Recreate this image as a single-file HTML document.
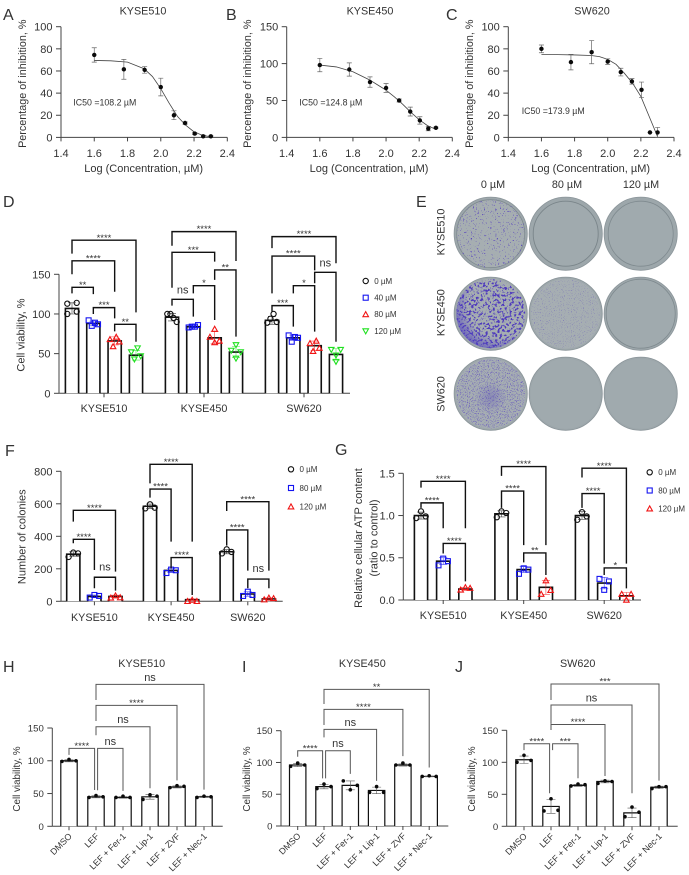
<!DOCTYPE html>
<html lang="en">
<head>
<meta charset="utf-8">
<title>Dose response and viability figure</title>
<style>
html,body{margin:0;padding:0;background:#fff;}
svg{display:block;font-family:"Liberation Sans",sans-serif;}
text{fill:#333;}
</style>
</head>
<body>
<svg id="figure" xmlns="http://www.w3.org/2000/svg" width="689" height="875" viewBox="0 0 689 875">
<defs>
<filter id="speckA" x="0" y="0" width="100%" height="100%" color-interpolation-filters="sRGB">
<feTurbulence type="fractalNoise" baseFrequency="0.62" numOctaves="3" seed="4"/>
<feColorMatrix type="matrix" values="0 0 0 0 .33  0 0 0 0 .25  0 0 0 0 .74  10 0 0 0 -6.6"/>
</filter>
<filter id="speckB" x="0" y="0" width="100%" height="100%" color-interpolation-filters="sRGB">
<feTurbulence type="fractalNoise" baseFrequency="0.42" numOctaves="3" seed="9"/>
<feColorMatrix type="matrix" values="0 0 0 0 .31  0 0 0 0 .23  0 0 0 0 .74  10 0 0 0 -5.3"/>
</filter>
<filter id="speckC" x="0" y="0" width="100%" height="100%" color-interpolation-filters="sRGB">
<feTurbulence type="fractalNoise" baseFrequency="0.9" numOctaves="2" seed="14"/>
<feColorMatrix type="matrix" values="0 0 0 0 .42  0 0 0 0 .38  0 0 0 0 .72  5 0 0 0 -3.1"/>
</filter>
<filter id="speckD" x="0" y="0" width="100%" height="100%" color-interpolation-filters="sRGB">
<feTurbulence type="fractalNoise" baseFrequency="0.9" numOctaves="2" seed="21"/>
<feColorMatrix type="matrix" values="0 0 0 0 .40  0 0 0 0 .34  0 0 0 0 .74  6 0 0 0 -3.3"/>
</filter>
<radialGradient id="crescent" cx="0.62" cy="0.38" r="0.72">
<stop offset="0.62" stop-color="#5040c0" stop-opacity="0"/>
<stop offset="1" stop-color="#4a3ac0" stop-opacity="0.85"/>
</radialGradient>
<radialGradient id="centerBlot" cx="0.5" cy="0.55" r="0.22">
<stop offset="0" stop-color="#5548b8" stop-opacity="0.35"/>
<stop offset="1" stop-color="#5548b8" stop-opacity="0"/>
</radialGradient>
<clipPath id="dishClip"><circle cx="0" cy="0" r="34.5"/></clipPath>
</defs>

<g style="font-size:16px">
<text x="3" y="20">A</text>
<text x="226" y="20">B</text>
<text x="446" y="20">C</text>
<text x="3" y="207">D</text>
<text x="416" y="207">E</text>
<text x="5" y="456">F</text>
<text x="335" y="455">G</text>
<text x="3" y="672">H</text>
<text x="242" y="672">I</text>
<text x="455" y="672">J</text>
</g>

<g>
<g style="font-size:10.8px" text-anchor="middle">
<text x="493" y="188">0 µM</text>
<text x="567" y="188">80 µM</text>
<text x="641" y="188">120 µM</text>
<text transform="translate(444.5,232) rotate(-90)">KYSE510</text>
<text transform="translate(444.5,312.7) rotate(-90)">KYSE450</text>
<text transform="translate(444.5,394) rotate(-90)">SW620</text>
</g>

<g transform="translate(490.7,233.7)">
<circle r="36.6" fill="#9da7ab" stroke="#8b959a" stroke-width=".8"/><circle r="34" fill="#a6aeb1" stroke="#7f8a90" stroke-width=".8"/>
<g clip-path="url(#dishClip)"><rect x="-36" y="-36" width="72" height="72" filter="url(#speckA)"/></g>
</g>
<g transform="translate(565.7,233.7)">
<circle r="36.6" fill="#9da7ab" stroke="#8b959a" stroke-width=".8"/><circle r="32.5" fill="#a0aaae" stroke="#7a858a" stroke-width=".9"/>
</g>
<g transform="translate(640.7,233.7)">
<circle r="36.6" fill="#9da7ab" stroke="#8b959a" stroke-width=".8"/><circle r="32.5" fill="#a0aaae" stroke="#7f8a8f" stroke-width=".8"/>
</g>

<g transform="translate(490.7,313.7)">
<circle r="36.6" fill="#9da7ab" stroke="#8b959a" stroke-width=".8"/><circle r="35" fill="#a6aeb1"/>
<g clip-path="url(#dishClip)"><rect x="-36" y="-36" width="72" height="72" filter="url(#speckB)"/><rect x="-36" y="-36" width="72" height="72" fill="url(#crescent)"/></g>
</g>
<g transform="translate(565.7,313.7)">
<circle r="36.6" fill="#9da7ab" stroke="#8b959a" stroke-width=".8"/><circle r="35" fill="#a6aeb2"/>
<g clip-path="url(#dishClip)"><rect x="-36" y="-36" width="72" height="72" filter="url(#speckC)" opacity=".85"/></g>
</g>
<g transform="translate(640.7,313.7)">
<circle r="36.6" fill="#9da7ab" stroke="#8b959a" stroke-width=".8"/><circle r="34.5" fill="#a0aaae" stroke="#7f8a8f" stroke-width=".8"/>
</g>

<g transform="translate(490.7,393.7)">
<circle r="36.6" fill="#9da7ab" stroke="#8b959a" stroke-width=".8"/><circle r="35" fill="#a6aeb2"/>
<g clip-path="url(#dishClip)"><rect x="-36" y="-36" width="72" height="72" filter="url(#speckD)"/><rect x="-36" y="-36" width="72" height="72" fill="url(#centerBlot)"/></g>
</g>
<g transform="translate(565.7,393.7)">
<circle r="36.6" fill="#9da7ab" stroke="#8b959a" stroke-width=".8"/><circle r="35" fill="#a0aaae"/>
</g>
<g transform="translate(640.7,393.7)">
<circle r="36.6" fill="#9da7ab" stroke="#8b959a" stroke-width=".8"/><circle r="35" fill="#a0aaae"/>
</g>
</g>

<script>
/* ---------- Panels A-C: dose response ---------- */
const doseLogs = [1.6, 1.778, 1.903, 2.0, 2.079, 2.146, 2.204, 2.255, 2.301];
const doseXTicks = [1.4, 1.6, 1.8, 2.0, 2.2, 2.4];
const aYTicks = [0, 20, 40, 60, 80, 100];
const bYTicks = [0, 50, 100, 150];
const cYTicks = [0, 20, 40, 60, 80, 100];
const aMeans = [74.5, 61.5, 61, 45.5, 20, 13, 3.5, 1, 1];
const aErrors = [6.5, 9, 3, 8, 4, 1, 1, 1, 0.5];
const bMeans = [98, 92, 75, 67, 50, 35, 23, 12, 13];
const bErrors = [9, 9, 7, 6, 2, 6, 5, 3, 1];
const cMeans = [80, 68, 77, 68.5, 59, 50.6, 43, 4.5, 4.5];
const cErrors = [3.5, 7, 10.5, 2.5, 3.5, 2.5, 7, 0, 4.5];
const curveLogs = [1.6, 1.7, 1.8, 1.9, 1.95, 2.0, 2.05, 2.1, 2.15, 2.2, 2.25, 2.3];
const aCurve = [69.5, 69.2, 68, 62, 55, 44, 31, 19, 11, 5, 2, 0.5];
const bCurve = [98, 95.5, 89, 78, 71, 64, 55, 45, 34, 24, 16, 11];
const cCurve = [75, 74.8, 74.5, 74, 73, 70.5, 66, 58, 49, 37, 19, 1];

/* ---------- Panel D ---------- */
const dGroups = ["KYSE510", "KYSE450", "SW620"];
const dDoses = ["0 µM", "40 µM", "80 µM", "120 µM"];
const dYTicks = [0, 50, 100, 150];
const dMeans = [[107, 88, 66, 48], [96, 84, 70, 52], [92, 70, 60, 49]];
const dPoints = [
  [[100, 103, 113, 114], [92, 85, 89, 87], [68, 59, 71, 65], [52, 43, 57, 47]],
  [[100, 100, 95, 90], [83, 84, 84, 86], [81, 71, 64, 66], [61, 54, 52, 44]],
  [[89, 94, 100, 90], [73, 65, 71, 70], [63, 53, 66, 57], [55, 55, 48, 40]]
];
const dBrackets = [
  [[0, 1, 133.6, 126, 125, "**"], [0, 2, 167, 150, 128, "****"], [0, 3, 193, 176, 102, "****"], [1, 2, 108, 100, 94.5, "***"], [2, 3, 87, 78, 65, "**"]],
  [[0, 1, 118.5, 110.5, 96.6, "ns"], [0, 2, 177.7, 133, 166, "***"], [0, 3, 203.8, 186, 166.8, "****"], [1, 2, 135.7, 126, 92.4, "*"], [2, 3, 155.5, 143, 71.4, "**"]],
  [[0, 1, 110.5, 103, 84, "***"], [0, 2, 173, 126, 155, "****"], [0, 3, 197.5, 183, 164, "****"], [1, 2, 135.7, 126, 77.7, "*"], [2, 3, 152.5, 138.7, 65, "ns"]]
];

/* ---------- Panel F ---------- */
const fGroups = ["KYSE510", "KYSE450", "SW620"];
const fDoses = ["0 µM", "80 µM", "120 µM"];
const fYTicks = [0, 200, 400, 600, 800];
const fMeans = [[290, 30, 30], [585, 190, 10], [305, 45, 15]];
const fPoints = [
  [[273, 300, 295], [23, 39, 33], [21, 35, 23]],
  [[572, 597, 576], [174, 195, 191], [0, 8, 0]],
  [[295, 320, 304], [33, 59, 39], [10, 21, 18]]
];
const fBrackets = [
  [[0, 1, 381.5, 357, 193, "****"], [0, 2, 560, 490, 183, "****"], [1, 2, 148, 80, 66, "ns"]],
  [[0, 1, 691, 638, 367, "****"], [0, 2, 843, 726, 367, "****"], [1, 2, 269, 203, 39, "****"]],
  [[0, 1, 439, 343, 189, "****"], [0, 2, 613, 556, 189, "****"], [1, 2, 137, 80, 80, "ns"]]
];

/* ---------- Panel G ---------- */
const gGroups = ["KYSE510", "KYSE450", "SW620"];
const gDoses = ["0 µM", "80 µM", "120 µM"];
const gYTicks = [0, 0.5, 1, 1.5];
const gYTickLabels = ["0.0", "0.5", "1.0", "1.5"];
const gMeans = [[1.0, 0.46, 0.13], [1.02, 0.36, 0.15], [1.0, 0.2, 0.05]];
const gPoints = [
  [[0.97, 1.05, 0.99], [0.41, 0.49, 0.46], [0.12, 0.15, 0.14]],
  [[0.98, 1.05, 1.03], [0.31, 0.375, 0.36], [0.07, 0.23, 0.115]],
  [[0.95, 1.04, 0.99], [0.25, 0.12, 0.22], [0.07, 0, 0.07]]
];
const gBrackets = [
  [[0, 1, 1.15, 1.09, 0.85, "****"], [0, 2, 1.405, 1.33, 0.85, "****"], [1, 2, 0.67, 0.55, 0.22, "****"]],
  [[0, 1, 1.29, 1.09, 0.65, "****"], [0, 2, 1.58, 1.47, 0.65, "****"], [1, 2, 0.557, 0.446, 0.296, "**"]],
  [[0, 1, 1.26, 1.09, 0.43, "****"], [0, 2, 1.56, 1.45, 0.43, "****"], [1, 2, 0.38, 0.296, 0.138, "*"]]
];

/* ---------- Panels H-J ---------- */
const treatments = ["DMSO", "LEF", "LEF + Fer-1", "LEF + Lip-1", "LEF + ZVF", "LEF + Nec-1"];
const viabilityTicks = [0, 50, 100, 150];
const hMeans = [100, 45, 44, 45, 60, 45];
const hPoints = [[99, 102, 100], [44, 47, 45], [44, 46, 44], [41, 48, 46], [59, 62, 61], [44, 46, 45]];
const hBrackets = [[0, 1, 119, 109, 55.4, "****"], [1, 2, 119, 55, 54, "ns"], [1, 3, 152, 139, 58, "ns"], [1, 4, 184.5, 160.6, 70, "****"], [1, 5, 216.6, 192.7, 56, "ns"]];
const iMeans = [96, 62, 64, 56, 96, 78];
const iPoints = [[94, 99, 96], [59, 66, 62], [71, 57, 64], [53, 62, 53], [96, 99, 96], [78, 79, 78]];
const iBrackets = [[0, 1, 118.5, 109, 75, "****"], [1, 2, 118.5, 75, 82, "ns"], [1, 3, 152, 139.5, 71, "ns"], [1, 4, 183.5, 159, 110, "****"], [1, 5, 215, 192, 92, "**"]];
const jMeans = [104, 31, 64, 70, 21, 61];
const jPoints = [[100, 111, 103], [24, 43, 25], [63, 66, 65], [67, 71, 70], [15, 30, 22], [59, 62, 62]];
const jBrackets = [[0, 1, 129, 119, 51.6, "****"], [1, 2, 129, 119, 75, "***"], [1, 3, 159, 150.5, 78.6, "****"], [1, 4, 189.6, 160, 51.6, "ns"], [1, 5, 222.4, 197.4, 71.4, "***"]];

/* ---------- helpers ---------- */
const SVGNS = "http://www.w3.org/2000/svg";
const root = document.getElementById("figure");
const AXIS = "#444";
const BLACK = "#111";

function make(tag, parent, attrs) {
  const node = document.createElementNS(SVGNS, tag);
  for (const k in attrs) node.setAttribute(k, attrs[k]);
  parent.appendChild(node);
  return node;
}
function scale(d0, d1, r0, r1) {
  return v => r0 + (v - d0) * (r1 - r0) / (d1 - d0);
}
function sd(values) {
  const m = values.reduce((a, b) => a + b, 0) / values.length;
  return Math.sqrt(values.reduce((a, b) => a + (b - m) * (b - m), 0) / (values.length - 1));
}
function makeLine(parent, x1, y1, x2, y2, color, width) {
  return make("line", parent, {x1: x1, y1: y1, x2: x2, y2: y2, stroke: color, "stroke-width": width});
}
function makeText(parent, x, y, content, size, anchor) {
  const t = make("text", parent, {x: x, y: y, "font-size": size, "text-anchor": anchor});
  t.textContent = content;
  return t;
}

/* y axis */
function drawYAxis(parent, x, y, ticks, labels, fontSize, topValue, bottomValue) {
  const ax = makeLine(parent, x, y(bottomValue), x, y(topValue), AXIS, 1);
  
  
  ticks.forEach((tick, i) => {
    const tl = makeLine(parent, x - 5, y(tick), x, y(tick), AXIS, 1);
    
    
    const lb = makeText(parent, x - 8.5, y(tick) + fontSize * 0.36, labels[i], fontSize, "end");
    
    
  });
}
function drawYTitle(parent, x, cy, content, size) {
  const t = make("text", parent, {"font-size": size, "text-anchor": "middle", transform: "translate(" + x + "," + cy + ") rotate(-90)"});
  t.textContent = content;
  
  
}

/* markers: 0 circle, 1 square, 2 triangle up, 3 triangle down */
function drawMarker(parent, kind, x, y, color, s, width) {
  let m;
  if (kind === 0) {
    m = make("circle", parent, {cx: x, cy: y, r: s * 0.95, fill: "none", stroke: color, "stroke-width": width});
  } else if (kind === 1) {
    m = make("rect", parent, {x: x - s * 0.9, y: y - s * 0.9, width: s * 1.8, height: s * 1.8, fill: "none", stroke: color, "stroke-width": width});
  } else if (kind === 2) {
    m = make("path", parent, {d: "M" + x + " " + (y - s) + "L" + (x + s) + " " + (y + s * 0.8) + "L" + (x - s) + " " + (y + s * 0.8) + "Z", fill: "none", stroke: color, "stroke-width": width});
  } else {
    m = make("path", parent, {d: "M" + x + " " + (y + s) + "L" + (x + s) + " " + (y - s * 0.8) + "L" + (x - s) + " " + (y - s * 0.8) + "Z", fill: "none", stroke: color, "stroke-width": width});
  }
  return m;
}

/* Swarm: points close in y share a row, kept in listed order */
function swarmOffsets(values, y, spacing, gap) {
  const order = values.map((v, i) => i).sort((a, b) => values[a] - values[b]);
  const rows = [];
  order.forEach(i => {
    const row = rows[rows.length - 1];
    if (row && Math.abs(y(values[row[row.length - 1]]) - y(values[i])) < gap) row.push(i);
    else rows.push([i]);
  });
  const out = values.map(() => 0);
  rows.forEach(row => {
    row.sort((a, b) => a - b);
    const n = row.length;
    row.forEach((idx, k) => {
      out[idx] = n === 1 ? 0 : (k - (n - 1) / 2) * (2 * spacing / (n - 1));
    });
  });
  return out;
}

function drawBracket(parent, x1, x2, yTop, yL, yR, label, color, width, lift) {
  const p = make("path", parent, {d: "M" + x1 + " " + yL + "V" + yTop + "H" + x2 + "V" + yR, fill: "none", stroke: color, "stroke-width": width});
  
  
  const isNs = label === "ns";
  const t = makeText(parent, (x1 + x2) / 2, isNs ? yTop - lift : yTop + 0.6, label, isNs ? 11 : 9.5, "middle");
  
  
}

/* ---------- dose response chart ---------- */
function drawDose(cfg) {
  const g = make("g", root, {});
  
  
  const x = scale(1.4, 2.4, cfg.x0, cfg.x1);
  const y = scale(0, cfg.ticks[cfg.ticks.length - 1], 137.4, 26.7);

  const title = makeText(g, cfg.titleX, 14.5, cfg.title, 10.8, "middle");
  
  

  drawYAxis(g, cfg.x0, y, cfg.ticks, cfg.ticks.map(String), 11, cfg.ticks[cfg.ticks.length - 1], 0);
  drawYTitle(g, cfg.yTitleX, 83.7, "Percentage of inhibition, %", 10.8);

  const xa = makeLine(g, cfg.x0, y(0), cfg.x1, y(0), AXIS, 1);
  
  
  doseXTicks.forEach(v => {
    const tk = makeLine(g, x(v), y(0), x(v), y(0) + 4, AXIS, 1);
    
    
    const lb = makeText(g, x(v), 157, v.toFixed(1), 11, "middle");
    
    
  });
  const xt = makeText(g, (cfg.x0 + cfg.x1) / 2 - 0.5, 172, "Log (Concentration, µM)", 11, "middle");
  
  

  const ic = makeText(g, cfg.icX, cfg.icY, cfg.ic, 8.8, "start");
  
  

  const curvePts = curveLogs.map((v, i) => x(v).toFixed(2) + "," + y(cfg.curve[i]).toFixed(2)).join(" ");
  const fit = make("polyline", g, {points: curvePts, fill: "none", stroke: "#444", "stroke-width": 0.8});
  
  

  doseLogs.forEach((v, i) => {
    const px = x(v), top = y(cfg.means[i] + cfg.errors[i]), bot = y(Math.max(0, cfg.means[i] - cfg.errors[i]));
    const eb = make("path", g, {d: "M" + (px - 2.5) + " " + top + "H" + (px + 2.5) + "M" + px + " " + top + "V" + bot + "M" + (px - 2.5) + " " + bot + "H" + (px + 2.5), fill: "none", stroke: "#666", "stroke-width": 0.7});
    
    
    const dot = make("circle", g, {cx: px, cy: y(cfg.means[i]), r: 2.2, fill: "#0a0a0a"});
    
    
  });
}

/* ---------- grouped bar chart ---------- */
function drawGrouped(cfg) {
  const g = make("g", root, {});
  
  
  const top = cfg.yTicks[cfg.yTicks.length - 1];
  const y = scale(0, top, cfg.y0, cfg.y1);
  const barX = (group, bar) => cfg.firstBar + group * cfg.groupStep + bar * cfg.barStep;

  drawYAxis(g, cfg.axisX, y, cfg.yTicks, cfg.yLabels, 11, top, 0);
  cfg.yTitles.forEach(t => drawYTitle(g, t[0], t[1], t[2], 11));

  const xa = makeLine(g, cfg.axisX, y(0), cfg.axisEnd, y(0), AXIS, 1);
  
  

  cfg.groups.forEach((group, gi) => {
    const barCount = cfg.doses.length;
    const cx = (barX(gi, 0) + barX(gi, barCount - 1)) / 2;
    const tk = makeLine(g, cx, y(0), cx, y(0) + 4, AXIS, 1);
    
    
    const lb = makeText(g, cx, cfg.labelY, group, 10.8, "middle");
    
    

    cfg.doses.forEach((dose, bi) => {
      const bx = barX(gi, bi);
      const bar = make("path", g, {d: "M" + (bx - 6.6) + " " + y(0) + "V" + y(cfg.means[gi][bi]) + "H" + (bx + 6.6) + "V" + y(0), fill: "#fff", stroke: BLACK, "stroke-width": 1.6});
      
      
    });
    cfg.doses.forEach((dose, bi) => {
      const bx = barX(gi, bi);
      const vals = cfg.points[gi][bi];
      const mean = cfg.means[gi][bi];
      const s = sd(vals);
      const color = cfg.colors[bi];
      const et = y(mean + s), eb = y(Math.max(mean - s, 0));
      const err = make("path", g, {d: "M" + (bx - 4) + " " + et + "H" + (bx + 4) + "M" + bx + " " + et + "V" + eb + "M" + (bx - 4) + " " + eb + "H" + (bx + 4), fill: "none", stroke: color, "stroke-width": 0.6, opacity: 0.8});
      
      
      const offs = swarmOffsets(vals, y, 4.7, 5);
      vals.forEach((v, pi) => {
        const mk = drawMarker(g, bi === 0 ? 0 : cfg.kinds[bi], bx + offs[pi], y(v), color, 2.75, 1.1);
        
        
      });
    });
    cfg.brackets[gi].forEach(b => {
      drawBracket(g, barX(gi, b[0]), barX(gi, b[1]), y(b[2]), y(b[3]), y(b[4]), b[5], BLACK, 1.4, cfg.nsLift);
    });
  });

  cfg.doses.forEach((dose, i) => {
    const ly = cfg.legendY + i * cfg.legendStep;
    const lm = drawMarker(g, i === 0 ? 0 : cfg.kinds[i], cfg.legendX, ly, cfg.colors[i], 2.8, 1.1);
    
    
    const lt = makeText(g, cfg.legendX + 8.5, ly + 2.8, dose, 8, "start");
    
    
  });
}

/* ---------- treatment bar chart ---------- */
function drawTreatment(cfg) {
  const g = make("g", root, {});
  
  
  const y = scale(0, 150, cfg.y0, cfg.y1);
  const bx = i => cfg.firstBar + i * cfg.barStep;

  const title = makeText(g, cfg.titleX, 667, cfg.title, 10.8, "middle");
  
  

  drawYAxis(g, cfg.axisX, y, viabilityTicks, viabilityTicks.map(String), 9.6, 150, 0);
  drawYTitle(g, cfg.yTitleX, 779, "Cell viability, %", 9.8);

  const xa = makeLine(g, cfg.axisX, y(0), cfg.axisEnd, y(0), AXIS, 1);
  
  

  treatments.forEach((name, i) => {
    const px = bx(i);
    const tk = makeLine(g, px, y(0), px, y(0) + 4, AXIS, 1);
    
    
    const lb = make("text", g, {"font-size": 8.8, "text-anchor": "end", transform: "translate(" + (px + 3.5) + "," + (y(0) + 10.5) + ") rotate(-45)"});
    lb.textContent = name;
    
    

    const bar = make("path", g, {d: "M" + (px - 8.2) + " " + y(0) + "V" + y(cfg.means[i]) + "H" + (px + 8.2) + "V" + y(0), fill: "#fff", stroke: BLACK, "stroke-width": 1.2});
    
    

    const vals = cfg.points[i];
    const mean = cfg.means[i];
    const s = sd(vals);
    const et = y(mean + s), eb = y(mean - s);
    const err = make("path", g, {d: "M" + (px - 4.5) + " " + et + "H" + (px + 4.5) + "M" + px + " " + et + "V" + eb + "M" + (px - 4.5) + " " + eb + "H" + (px + 4.5), fill: "none", stroke: "#555", "stroke-width": 0.6});
    
    

    const offs = swarmOffsets(vals, y, 7, 6);
    vals.forEach((v, pi) => {
      const dot = make("circle", g, {cx: px + offs[pi], cy: y(v), r: 1.8, fill: "#0a0a0a"});
      
      
    });
  });

  cfg.brackets.forEach((b, i) => {
    const x1 = bx(b[0]) + (i === 1 ? 1.6 : 0);
    const x2 = bx(b[1]) - (i === 0 ? 1.4 : 0);
    drawBracket(g, x1, x2, y(b[2]), y(b[3]), y(b[4]), b[5], "#555", 1, 3.5);
  });
}

/* ---------- draw everything ---------- */
drawDose({name: "panel-a-dose-response", title: "KYSE510", titleX: 143, x0: 61, x1: 227.3, ticks: aYTicks, yTitleX: 26, means: aMeans, errors: aErrors, curve: aCurve, ic: "IC50 =108.2 µM", icX: 73.3, icY: 105.7});
drawDose({name: "panel-b-dose-response", title: "KYSE450", titleX: 370, x0: 286.7, x1: 452.3, ticks: bYTicks, yTitleX: 251, means: bMeans, errors: bErrors, curve: bCurve, ic: "IC50 =124.8 µM", icX: 299.3, icY: 105.7});
drawDose({name: "panel-c-dose-response", title: "SW620", titleX: 592, x0: 508.3, x1: 674, ticks: cYTicks, yTitleX: 473, means: cMeans, errors: cErrors, curve: cCurve, ic: "IC50 =173.9 µM", icX: 521.7, icY: 114});

drawGrouped({name: "panel-d-cell-viability", groups: dGroups, doses: dDoses, means: dMeans, points: dPoints, brackets: dBrackets,
  yTicks: dYTicks, yLabels: dYTicks.map(String), y0: 393.3, y1: 274.3, axisX: 59, axisEnd: 350,
  firstBar: 72, barStep: 21.33, groupStep: 100, labelY: 412,
  yTitles: [[24.5, 335, "Cell viability, %"]],
  colors: ["#111", "#1414f0", "#f01414", "#1fe01f"], kinds: [0, 1, 2, 3],
  legendX: 365.7, legendY: 281, legendStep: 16.7, nsLift: 6});

drawGrouped({name: "panel-f-colony-count", groups: fGroups, doses: fDoses, means: fMeans, points: fPoints, brackets: fBrackets,
  yTicks: fYTicks, yLabels: fYTicks.map(String), y0: 601.3, y1: 471.3, axisX: 61, axisEnd: 282.7,
  firstBar: 73.3, barStep: 21.1, groupStep: 76.7, labelY: 621,
  yTitles: [[25.5, 536.7, "Number of colonies"]],
  colors: ["#111", "#1414f0", "#f01414"], kinds: [0, 1, 2],
  legendX: 291, legendY: 469.3, legendStep: 18.7, nsLift: 7});

drawGrouped({name: "panel-g-atp-content", groups: gGroups, doses: gDoses, means: gMeans, points: gPoints, brackets: gBrackets,
  yTicks: gYTicks, yLabels: gYTickLabels, y0: 600, y1: 473.3, axisX: 403.3, axisEnd: 641,
  firstBar: 421, barStep: 22.2, groupStep: 80.5, labelY: 619,
  yTitles: [[362, 538, "Relative cellular ATP content"], [377.5, 538, "(ratio to control)"]],
  colors: ["#111", "#1414f0", "#f01414"], kinds: [0, 1, 2],
  legendX: 649.7, legendY: 472.3, legendStep: 18.2, nsLift: 6});

drawTreatment({name: "panel-h-rescue-kyse510", title: "KYSE510", titleX: 141.7, means: hMeans, points: hPoints, brackets: hBrackets,
  y0: 826.3, y1: 728, axisX: 52.3, axisEnd: 222.7, firstBar: 69, barStep: 27, yTitleX: 20});
drawTreatment({name: "panel-i-rescue-kyse450", title: "KYSE450", titleX: 362.3, means: iMeans, points: iPoints, brackets: iBrackets,
  y0: 826, y1: 730.7, axisX: 281, axisEnd: 448.3, firstBar: 297.7, barStep: 26.3, yTitleX: 250});
drawTreatment({name: "panel-j-rescue-sw620", title: "SW620", titleX: 577.7, means: jMeans, points: jPoints, brackets: jBrackets,
  y0: 826.3, y1: 730.3, axisX: 506.7, axisEnd: 677.7, firstBar: 524, barStep: 27, yTitleX: 475});
</script>
</svg>
</body>
</html>
